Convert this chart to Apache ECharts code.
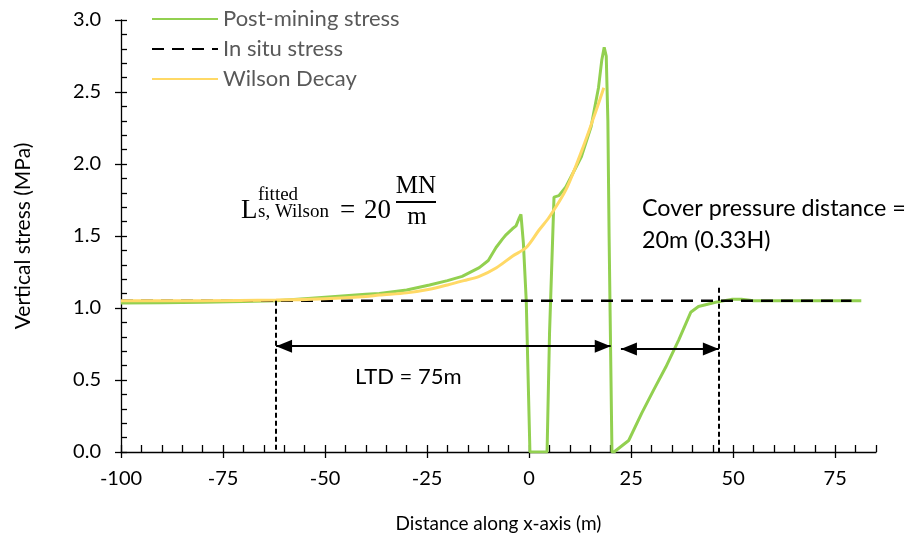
<!DOCTYPE html>
<html>
<head>
<meta charset="utf-8">
<script src="https://cdn.jsdelivr.net/npm/echarts@6/dist/echarts.min.js"></script>
<style>html,body{margin:0;padding:0;background:#fff;}#c{width:908px;height:546px;}</style>
</head>
<body>
<div id="c"></div>
<script>
// ---- data ----
var xTickValues = [-100, -75, -50, -25, 0, 25, 50, 75];
var yTickValues = [0, 0.5, 1.0, 1.5, 2.0, 2.5, 3.0];
var postMiningX = [-100,-90,-80,-70,-62,-55,-50,-45,-40,-36.7,-30,-24.4,-20,-16.4,-12.2,-10,-8.1,-6.5,-5.6,-4.1,-3.2,-2.5,-2,-1.4,-0.7,0.2,4.4,5.0,6.1,7.3,9,12.8,15.2,17,17.8,18.4,18.9,19.3,19.6,20.3,20.8,24.4,27.6,30.5,33.5,36.7,39.6,41.5,45.7,49.6,52,55,81.4];
var postMiningY = [1.035,1.037,1.04,1.045,1.05,1.065,1.075,1.085,1.095,1.10,1.125,1.16,1.19,1.22,1.28,1.33,1.42,1.48,1.51,1.55,1.57,1.62,1.65,1.45,1.05,0,0,0.82,1.77,1.78,1.84,2.05,2.26,2.53,2.72,2.81,2.75,2.3,1.5,0,0,0.08,0.27,0.43,0.59,0.78,0.97,1.01,1.04,1.06,1.06,1.05,1.05];
var inSituX = [-100, 79];
var inSituY = [1.05, 1.05];
var wilsonX = [-100,-80,-62,-50,-40,-36.7,-30,-24.4,-20,-16,-12.2,-8,-4.1,-0.7,2.4,4.9,9,13,16.4,18.3];
var wilsonY = [1.05,1.05,1.055,1.065,1.08,1.09,1.105,1.13,1.16,1.19,1.22,1.28,1.36,1.42,1.54,1.63,1.82,2.10,2.37,2.53];
// annotation geometry in data units
var ltdLineX = -62, ltdLineTop = 1.05;
var cpdLineX = 46.5, cpdLineTop = 1.14;
var ltdArrow = [[-62, 0.735], [20, 0.735]];
var cpdArrow = [[22.5, 0.715], [46.5, 0.715]];

function zip(a, b) { return a.map(function (v, i) { return [v, b[i]]; }); }

var chart = echarts.init(document.getElementById('c'), null, {renderer: 'canvas'});
var FONT = 'Lato';
var SERIF = '"Liberation Serif"';
var axisLineStyle = {color: '#000', width: 1.3};
var arrowLine = {color: '#000', width: 2, type: 'solid'};

function txt(x, y, s, size, extra) {
  var st = {text: s, font: size + 'px ' + SERIF, fill: '#000', verticalAlign: 'middle', align: 'left'};
  if (extra) for (var k in extra) st[k] = extra[k];
  return {type: 'text', x: x, y: y, style: st};
}

var option = {
  animation: false,
  backgroundColor: '#fff',
  grid: {left: 121, right: 32, top: 20, bottom: 94},
  legend: {
    orient: 'vertical', left: 146, top: 2,
    itemWidth: 66, itemHeight: 14, itemGap: 6,
    itemStyle: {opacity: 0},
    textStyle: {fontFamily: FONT, fontSize: 22, color: '#595959', lineHeight: 24},
    data: ['Post-mining stress', 'In situ stress', 'Wilson Decay']
  },
  xAxis: [{
    type: 'value', min: -100, max: 85, interval: 25, position: 'bottom',
    axisLine: {onZero: false, lineStyle: axisLineStyle},
    axisTick: {show: true, inside: false, length: 6, lineStyle: {color: '#000', width: 1.3}, customValues: xTickValues},
    axisLabel: {fontFamily: FONT, fontSize: 20, color: '#000', margin: 17, customValues: xTickValues},
    splitLine: {show: false},
    name: 'Distance along x-axis (m)', nameLocation: 'middle', nameGap: 62,
    nameTextStyle: {fontFamily: FONT, fontSize: 19, color: '#000'}
  }, {
    type: 'value', min: -100, max: 85, interval: 5, position: 'bottom',
    axisLine: {show: false, onZero: false},
    axisTick: {show: true, inside: true, length: 7, lineStyle: {color: '#000', width: 1.3}},
    axisLabel: {show: false}, splitLine: {show: false}
  }],
  yAxis: [{
    type: 'value', min: 0, max: 3, interval: 0.5, position: 'left',
    axisLine: {show: true, onZero: false, lineStyle: axisLineStyle},
    axisTick: {show: true, inside: false, length: 6, lineStyle: {color: '#000', width: 1.3}},
    axisLabel: {fontFamily: FONT, fontSize: 20, color: '#000', margin: 20, formatter: function (v) { return v.toFixed(1); }},
    splitLine: {show: false},
    name: 'Vertical stress (MPa)', nameLocation: 'middle', nameGap: 87,
    nameTextStyle: {fontFamily: FONT, fontSize: 21, color: '#000'}
  }, {
    type: 'value', min: 0, max: 3, interval: 0.1, position: 'left',
    axisLine: {show: false, onZero: false},
    axisTick: {show: true, inside: true, length: 6, lineStyle: {color: '#000', width: 1.3}},
    axisLabel: {show: false}, splitLine: {show: false}
  }],
  series: [{
    name: 'In situ stress', type: 'line', data: zip(inSituX, inSituY), symbol: 'none',
    lineStyle: {color: '#000', width: 2.5, type: [12, 8]}, itemStyle: {color: '#000'}, z: 3
  }, {
    name: 'Wilson Decay', type: 'line', data: zip(wilsonX, wilsonY), symbol: 'none', smooth: 0.3,
    lineStyle: {color: '#FFD966', width: 3}, itemStyle: {color: '#FFD966'}, z: 4
  }, {
    name: 'Post-mining stress', type: 'line', data: zip(postMiningX, postMiningY), symbol: 'none',
    lineStyle: {color: '#92D050', width: 3}, itemStyle: {color: '#92D050'}, z: 2
  }, {
    name: 'annot', type: 'line', data: [], symbol: 'none', z: 5,
    markLine: {
      silent: true, animation: false, label: {show: false},
      data: [
        [{coord: [ltdLineX, ltdLineTop], symbol: 'none', lineStyle: {color: '#000', width: 2, type: [5, 3]}},
         {coord: [ltdLineX, 0], symbol: 'none'}],
        [{coord: [cpdLineX, cpdLineTop], symbol: 'none', lineStyle: {color: '#000', width: 2, type: [5, 3]}},
         {coord: [cpdLineX, 0], symbol: 'none'}],
        [{coord: ltdArrow[0], symbol: 'triangle', symbolSize: [13, 16], symbolOffset: [0, 8], lineStyle: arrowLine},
         {coord: ltdArrow[1], symbol: 'triangle', symbolSize: [13, 16], symbolOffset: [0, 8]}],
        [{coord: cpdArrow[0], symbol: 'triangle', symbolSize: [13, 16], symbolOffset: [0, 8], lineStyle: arrowLine},
         {coord: cpdArrow[1], symbol: 'triangle', symbolSize: [13, 16], symbolOffset: [0, 8]}]
      ]
    }
  }],
  graphic: [
    {type: 'text', x: 355, y: 377, style: {text: 'LTD = 75m', font: '22px Lato', fill: '#000', verticalAlign: 'middle'}},
    {type: 'text', x: 642, y: 208, style: {text: 'Cover pressure distance =', font: '23.3px Lato', fill: '#000', verticalAlign: 'middle'}},
    {type: 'text', x: 642, y: 240, style: {text: '20m (0.33H)', font: '23.3px Lato', fill: '#000', verticalAlign: 'middle'}},
    // formula
    txt(241, 211, 'L', 27),
    txt(258, 195, 'fitted', 19),
    txt(258, 212, 's, Wilson', 19),
    txt(340, 211, '=', 27),
    txt(364, 211, '20', 27),
    {type: 'line', shape: {x1: 396, y1: 202, x2: 436, y2: 202}, style: {stroke: '#000', lineWidth: 2}},
    txt(416, 186, 'MN', 25, {align: 'center'}),
    txt(417, 217, 'm', 25, {align: 'center'})
  ]
};
chart.setOption(option);
</script>
</body>
</html>
